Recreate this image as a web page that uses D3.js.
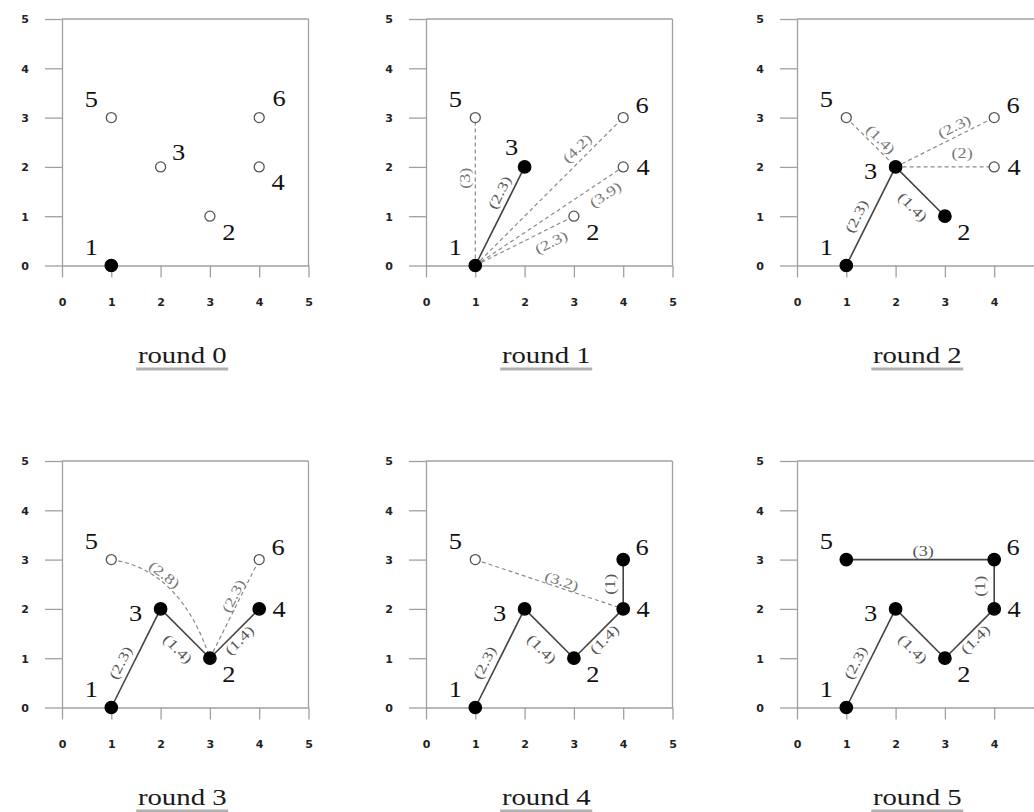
<!DOCTYPE html>
<html><head><meta charset="utf-8">
<script src="https://cdn.jsdelivr.net/npm/d3@7"></script>
<style>
body{margin:0;background:#fff;}
svg{display:block;background:#fff;}
</style></head><body>
<svg id="chart" width="1034" height="812"></svg>
<script>
// ---------- data ----------
const nodeIds = [1, 2, 3, 4, 5, 6];
const nodeX = [1, 3, 2, 4, 1, 4];
const nodeY = [0, 1, 2, 2, 3, 3];
const roundTitles = ["round 0", "round 1", "round 2", "round 3", "round 4", "round 5"];
const tickValues = [0, 1, 2, 3, 4, 5];
const treeNodes = [[1], [1, 3], [1, 3, 2], [1, 3, 2, 4], [1, 3, 2, 4, 6], [1, 3, 2, 4, 6, 5]];
const treeEdges = [
  [],
  [[1, 3, "(2.3)"]],
  [[1, 3, "(2.3)"], [3, 2, "(1.4)"]],
  [[1, 3, "(2.3)"], [3, 2, "(1.4)"], [2, 4, "(1.4)"]],
  [[1, 3, "(2.3)"], [3, 2, "(1.4)"], [2, 4, "(1.4)"], [4, 6, "(1)"]],
  [[1, 3, "(2.3)"], [3, 2, "(1.4)"], [2, 4, "(1.4)"], [4, 6, "(1)"], [5, 6, "(3)"]]
];
const candidateEdges = [
  [],
  [[1, 5, "(3)"], [1, 6, "(4.2)"], [1, 4, "(3.9)"], [1, 2, "(2.3)"]],
  [[5, 3, "(1.4)"], [3, 6, "(2.3)"], [3, 4, "(2)"]],
  [[5, 2, "(2.8)"], [2, 6, "(2.3)"]],
  [[5, 4, "(3.2)"]],
  []
];

// ---------- layout (annotation placement, not data) ----------
const colX = [62, 426, 797];
const rowY = [19, 461];
const plotSize = 246.5;
const W = 1034;
// edge label: [fraction along edge, perpendicular px offset, optional bend dx, bend dy (data units)]
const edgePlace = [
  {},
  {"1-3": [0.69, 11], "1-5": [0.59, 10], "1-6": [0.74, 11], "1-4": [0.83, -13], "1-2": [0.71, -13]},
  {"1-3": [0.44, 13], "3-2": [0.58, -16], "5-3": [0.57, 9], "3-6": [0.64, 10], "3-4": [0.675, 14]},
  {"1-3": [0.4, 12], "3-2": [0.58, -16], "2-4": [0.48, -8], "5-2": [0.4, 7, 0.4, 0.8], "2-6": [0.6, 7]},
  {"1-3": [0.4, 12], "3-2": [0.58, -16], "2-4": [0.5, -8], "4-6": [0.5, 13], "5-4": [0.57, 7]},
  {"1-3": [0.4, 12], "3-2": [0.58, -16], "2-4": [0.5, -8], "4-6": [0.46, 14], "5-6": [0.52, 9]}
];
const labelOffsets = {tl: [-20, -19], br: [19, 15], tr: [18, -15], TR: [20, -20], r: [20, 0], l: [-25, 4], t: [-13, -20], tr2: [19, -13]};
const nodeLabelDir = [
  ["tl", "br", "tr", "br", "tl", "TR"],
  ["tl", "br", "t", "r", "tl", "tr2"],
  ["tl", "br", "l", "r", "tl", "tr2"],
  ["tl", "br", "l", "r", "tl", "tr2"],
  ["tl", "br", "l", "r", "tl", "tr2"],
  ["tl", "br", "l", "r", "tl", "tr2"]
];

const svg = d3.select("#chart");
const axisColor = "#a0a0a0";

roundTitles.forEach((title, r) => {
  const col = r % 3, row = Math.floor(r / 3);
  const x = d3.scaleLinear().domain([0, 5]).range([colX[col], colX[col] + plotSize]);
  const y = d3.scaleLinear().domain([0, 5]).range([rowY[row] + plotSize, rowY[row]]);
  const g = svg.append("g");

  // axes
  const ax = g.append("g").attr("transform", `translate(0,${y(0)})`)
    .call(d3.axisBottom(x).tickValues(tickValues).tickFormat(d3.format("d")).tickSize(12).tickSizeOuter(0));
  const ay = g.append("g").attr("transform", `translate(${x(0)},0)`)
    .call(d3.axisLeft(y).tickValues(tickValues).tickFormat(d3.format("d")).tickSize(17).tickSizeOuter(0));
  [ax, ay].forEach(a => {
    a.selectAll(".domain, .tick line").attr("stroke", axisColor).attr("stroke-width", 1.3);
    a.selectAll("text").attr("font-family", "DejaVu Sans").attr("font-weight", "bold")
      .attr("font-size", 11).attr("fill", "#222");
  });
  ax.selectAll("text").attr("y", 37).attr("dy", "0.36em");
  // labels that fall beyond the page edge are not shown (as in the cropped reference)
  ax.selectAll(".tick").filter(v => x(v) + 6 > W).select("text").remove();
  ay.selectAll("text").attr("x", -37).attr("dy", "0.36em").attr("text-anchor", "middle");
  // frame top & right
  g.append("line").attr("x1", x(0)).attr("x2", x(5)).attr("y1", y(5)).attr("y2", y(5))
    .attr("stroke", axisColor).attr("stroke-width", 1.3);
  g.append("line").attr("x1", x(5)).attr("x2", x(5)).attr("y1", y(5)).attr("y2", y(0))
    .attr("stroke", axisColor).attr("stroke-width", 1.3);

  const px = id => x(nodeX[nodeIds.indexOf(id)]);
  const py = id => y(nodeY[nodeIds.indexOf(id)]);

  function drawEdge(e, dashed) {
    const [a, b, lab] = e;
    const place = edgePlace[r][a + "-" + b] || [0.5, 10];
    const [t, d, bx, by] = place;
    const ax0 = px(a), ay0 = py(a), bx0 = px(b), by0 = py(b);
    let lx, ly, tx, ty;
    if (bx !== undefined) {
      const ia = nodeIds.indexOf(a), ib = nodeIds.indexOf(b);
      const cx = x((nodeX[ia] + nodeX[ib]) / 2 + bx), cy = y((nodeY[ia] + nodeY[ib]) / 2 + by);
      g.append("path").attr("d", `M${ax0},${ay0}Q${cx},${cy} ${bx0},${by0}`)
        .attr("fill", "none").attr("stroke", dashed ? "#8a8a8a" : "#444")
        .attr("stroke-width", dashed ? 1.2 : 1.6).attr("stroke-dasharray", dashed ? "4,3" : null);
      const u = 1 - t;
      lx = u * u * ax0 + 2 * t * u * cx + t * t * bx0;
      ly = u * u * ay0 + 2 * t * u * cy + t * t * by0;
      tx = 2 * u * (cx - ax0) + 2 * t * (bx0 - cx);
      ty = 2 * u * (cy - ay0) + 2 * t * (by0 - cy);
    } else {
      g.append("line").attr("x1", ax0).attr("y1", ay0).attr("x2", bx0).attr("y2", by0)
        .attr("stroke", dashed ? "#8a8a8a" : "#444")
        .attr("stroke-width", dashed ? 1.2 : 1.6).attr("stroke-dasharray", dashed ? "4,3" : null);
      lx = ax0 + t * (bx0 - ax0); ly = ay0 + t * (by0 - ay0);
      tx = bx0 - ax0; ty = by0 - ay0;
    }
    let ang = Math.atan2(ty, tx) * 180 / Math.PI;
    if (ang > 90) ang -= 180;
    if (ang < -90) ang += 180;
    const rad = ang * Math.PI / 180;
    const nx = Math.sin(rad), ny = -Math.cos(rad);
    return {x: lx + d * nx, y: ly + d * ny, ang, lab, dashed};
  }

  const labels = [];
  candidateEdges[r].forEach(e => labels.push(drawEdge(e, true)));
  treeEdges[r].forEach(e => labels.push(drawEdge(e, false)));

  labels.forEach(L => {
    g.append("text").attr("transform", `translate(${L.x},${L.y}) rotate(${L.ang}) scale(1.3,1)`)
      .attr("text-anchor", "middle").attr("dy", "0.35em")
      .attr("font-family", "Liberation Serif").attr("font-size", 14)
      .attr("fill", L.dashed ? "#777" : "#555").text(L.lab);
  });

  // nodes
  nodeIds.forEach((id, i) => {
    const filled = treeNodes[r].includes(id);
    g.append("circle").attr("cx", x(nodeX[i])).attr("cy", y(nodeY[i]))
      .attr("r", filled ? 6.2 : 5)
      .attr("fill", filled ? "#000" : "#fff")
      .attr("stroke", filled ? "#000" : "#555").attr("stroke-width", 1.3);
    const off = labelOffsets[nodeLabelDir[r][i]];
    g.append("text").attr("transform", `translate(${x(nodeX[i]) + off[0]},${y(nodeY[i]) + off[1]}) scale(1.1,1)`)
      .attr("dy", "0.35em").attr("text-anchor", "middle")
      .attr("font-family", "Liberation Serif").attr("font-size", 24).attr("fill", "#111")
      .text(id);
  });

  // title
  const tcx = x(2.5) - 3;
  const baseY = y(0) + 97.5;
  g.append("text").attr("transform", `translate(${tcx},${baseY}) scale(1.2,1)`).attr("text-anchor", "middle")
    .attr("font-family", "Liberation Serif").attr("font-size", 24)
    .attr("fill", "#1a1a1a").text(title);
  g.append("line").attr("x1", tcx - 46).attr("x2", tcx + 46).attr("y1", baseY + 6).attr("y2", baseY + 6)
    .attr("stroke", "#b0b0b0").attr("stroke-width", 3);
});
</script>
</body></html>
